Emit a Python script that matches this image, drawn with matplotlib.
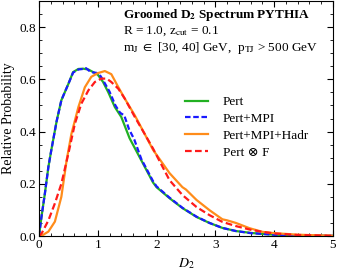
import matplotlib
matplotlib.use("Agg")
import matplotlib.pyplot as plt
import numpy as np
from matplotlib.ticker import MultipleLocator

plt.rcParams["font.family"] = ["Liberation Serif", "DejaVu Serif"]
plt.rcParams["mathtext.fontset"] = "stix"

# curves
x_pert = [0, 0.04, 0.1, 0.16, 0.21, 0.3, 0.38, 0.5, 0.58, 0.67, 0.75, 0.84, 0.92, 1.0, 1.09,
          1.18, 1.29, 1.4, 1.54, 1.74, 1.94, 2.0, 2.22, 2.44, 2.68, 2.9, 3.12, 3.35, 3.6,
          3.8, 4.0, 4.4, 5.0]
y_pert = [0, 0.07, 0.163, 0.265, 0.33, 0.44, 0.52, 0.583, 0.628, 0.64, 0.641, 0.638, 0.628, 0.618, 0.59,
          0.55, 0.494, 0.456, 0.375, 0.29, 0.205, 0.187, 0.145, 0.107, 0.073, 0.05, 0.031, 0.019, 0.012,
          0.008, 0.005, 0.002, 0.0005]
x_mpi = [0, 0.04, 0.1, 0.16, 0.21, 0.3, 0.38, 0.5, 0.58, 0.67, 0.75, 0.8, 0.88, 0.98, 1.05,
         1.12, 1.2, 1.3, 1.38, 1.45, 1.53, 1.62, 1.74, 1.94, 2.0, 2.22, 2.44, 2.68, 2.9, 3.12,
         3.35, 3.6, 3.8, 4.0, 4.4, 5.0]
y_mpi = [0, 0.07, 0.163, 0.265, 0.33, 0.44, 0.52, 0.583, 0.626, 0.638, 0.64, 0.643, 0.628, 0.625, 0.612,
         0.585, 0.553, 0.5, 0.472, 0.462, 0.41, 0.37, 0.295, 0.21, 0.19, 0.147, 0.108, 0.074, 0.05, 0.031,
         0.019, 0.011, 0.008, 0.005, 0.002, 0.0005]
x_hadr = [0, 0.045, 0.16, 0.27, 0.38, 0.47, 0.55, 0.67, 0.78, 0.89, 1.0, 1.12, 1.23, 1.35, 1.46, 1.63,
          1.8, 1.94, 2.22, 2.44, 2.5, 2.68, 2.9, 3.12, 3.2, 3.35, 3.58, 3.8, 4.0, 4.4, 5.0]
y_hadr = [0, 0.001, 0.017, 0.055, 0.15, 0.29, 0.39, 0.494, 0.57, 0.61, 0.624, 0.632, 0.62, 0.57, 0.526, 0.462,
          0.39, 0.33, 0.241, 0.187, 0.178, 0.138, 0.099, 0.064, 0.06, 0.05, 0.03, 0.016, 0.011, 0.005, 0.001]
x_fold = [0, 0.045, 0.16, 0.27, 0.38, 0.5, 0.61, 0.72, 0.84, 0.95, 1.06, 1.15, 1.23, 1.35, 1.46, 1.63,
          1.8, 1.94, 2.22, 2.44, 2.68, 2.9, 3.12, 3.35, 3.6, 3.8, 4.0, 4.4, 5.0]
y_fold = [0, 0.01, 0.06, 0.125, 0.2, 0.316, 0.43, 0.507, 0.558, 0.59, 0.603, 0.603, 0.59, 0.564, 0.526, 0.456,
          0.39, 0.335, 0.214, 0.157, 0.111, 0.08, 0.054, 0.038, 0.024, 0.016, 0.01, 0.004, 0.001]

fig = plt.figure(figsize=(3.38, 2.73), dpi=100)
ax = fig.add_axes([0.1154, 0.1355, 0.8696, 0.8605])

ax.plot(x_pert, y_pert, color="#22b022", lw=1.6, label="Pert")
ax.plot(x_mpi, y_mpi, color="#1a1aff", lw=1.6, ls=(0, (2.5, 1.2)), label="Pert+MPI")
ax.plot(x_hadr, y_hadr, color="#ff8c1a", lw=1.6, label="Pert+MPI+Hadr")
ax.plot(x_fold, y_fold, color="#ff1a1a", lw=1.6, ls=(0, (3, 1.5)), label="Pert \u2297 F")

ax.set_xlim(0, 5)
ax.set_ylim(0, 0.9)
ax.xaxis.set_major_locator(MultipleLocator(1))
ax.xaxis.set_minor_locator(MultipleLocator(0.2))
ax.yaxis.set_major_locator(MultipleLocator(0.2))
ax.yaxis.set_minor_locator(MultipleLocator(0.05))
ax.tick_params(which="both", direction="in", top=True, right=True, labelsize=9.5, pad=2)
ax.tick_params(which="major", length=4)
ax.tick_params(which="minor", length=2)
ax.set_xlabel(r"$D_2$", fontsize=10, labelpad=4)
ax.set_ylabel("Relative Probability", fontsize=10, labelpad=3)

ax.text(0.285, 0.942, r"Groomed D$_\mathbf{2}$ Spectrum PYTHIA", transform=ax.transAxes,
        fontsize=9.5, fontweight="bold", va="center")
ax.text(0.285, 0.872, r"R = 1.0, z$_{\rm cut}$ = 0.1", transform=ax.transAxes,
        fontsize=9.5, va="center")
ax.text(0.285, 0.8, r"m$_{\rm J}$ $\in$ [30, 40] GeV,  p$_{\rm TJ}$ > 500 GeV",
        transform=ax.transAxes, fontsize=9.5, va="center")

ax.legend(loc="upper left", bbox_to_anchor=(0.497, 0.596), frameon=False, fontsize=9.5,
          handlelength=1.75, handletextpad=1.1, labelspacing=0.35, borderpad=0,
          borderaxespad=0)

fig.savefig("out.png", dpi=100)
